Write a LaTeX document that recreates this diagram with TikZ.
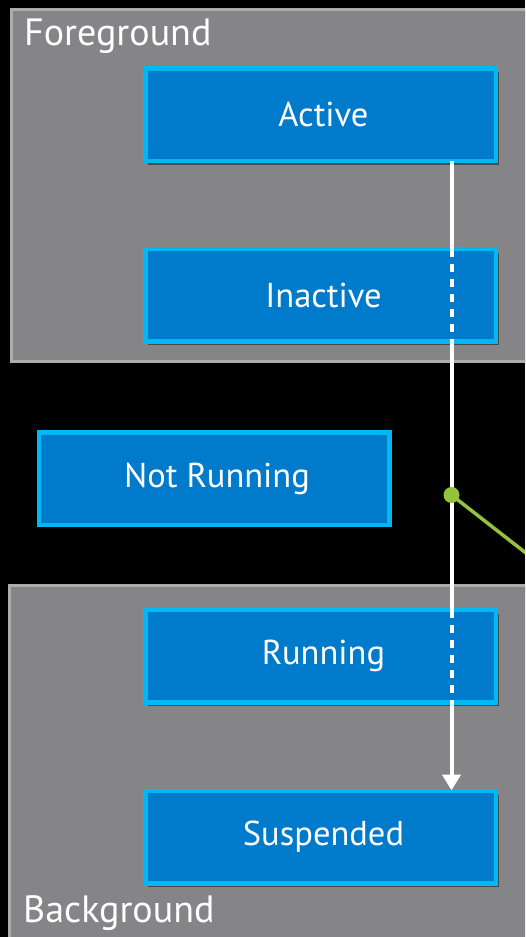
\documentclass[tikz,border=0pt]{standalone}
\usepackage{fontspec}
\setmainfont{PT Sans}
\usetikzlibrary{arrows.meta,shadows}
\definecolor{boxfill}{RGB}{0,122,203}
\definecolor{boxline}{RGB}{0,184,242}
\definecolor{grpfill}{RGB}{133,133,135}
\definecolor{grpline}{RGB}{172,172,172}
\definecolor{greenln}{RGB}{148,194,58}
\tikzset{
  statebox/.style={draw=boxline, fill=boxfill, line width=4.5pt, minimum width=350.5pt, minimum height=92.5pt,
    text=white, font=\fontsize{34.5}{36}\selectfont, inner sep=0pt,
    execute at begin node={\hspace*{6pt}},
    drop shadow={shadow xshift=3pt, shadow yshift=-4pt, opacity=0.45, fill=black}},
  grouprect/.style={draw=grpline, fill=grpfill, line width=3.5pt},
  grouplabel/.style={text=white, font=\fontsize{38}{40}\selectfont, inner sep=0pt, anchor=base west},
  flow/.style={draw=white, line width=4pt},
  flowdash/.style={draw=white, line width=4pt, dash pattern=on 8pt off 7pt},
  greenline/.style={draw=greenln, line width=3.5pt},
}
\begin{document}
\begin{tikzpicture}[x=1pt,y=-1pt]
\useasboundingbox (0,0) rectangle (525,937);
\clip (0,0) rectangle (525,937);
\fill[black] (0,0) rectangle (525,937);
% groups
\draw[grouprect] (11.5,9.5) rectangle (560,361.5);
\draw[grouprect] (9.5,585.5) rectangle (560,960);
\node[grouplabel] (fg) at (24,45) {Foreground};
\node[grouplabel] (bg) at (23,922) {Background};
% states
\node[statebox] (active) at (320.5,114.5) {Active};
\node[statebox] (inactive) at (320.5,295) {Inactive};
\node[statebox] (notrunning) at (214,478.5) {Not Running};
\node[statebox] (running) at (320.5,656) {Running};
\node[statebox] (suspended) at (320.5,837) {Suspended};
% transition line
\coordinate (lx) at (451.5,0);
\draw[flow] ([yshift=2pt]active.south -| lx) -- ([yshift=-2pt]inactive.north -| lx);
\draw[flowdash] ([yshift=-2pt]inactive.north -| lx) -- ([yshift=2pt]inactive.south -| lx);
\draw[flow] ([yshift=2pt]inactive.south -| lx) -- ([yshift=-2pt]running.north -| lx);
\draw[flowdash] ([yshift=-2pt]running.north -| lx) -- ([yshift=2pt]running.south -| lx);
\draw[flow, -{Triangle[width=18pt,length=16pt]}] ([yshift=2pt]running.south -| lx) -- ([yshift=-2pt]suspended.north -| lx);
% green callout
\node[circle, fill=greenln, minimum size=16pt, inner sep=0pt] (dot) at (451.5,495) {};
\coordinate (gend) at (540,564);
\draw[greenline] (dot.center) -- (gend);
\end{tikzpicture}
\end{document}
